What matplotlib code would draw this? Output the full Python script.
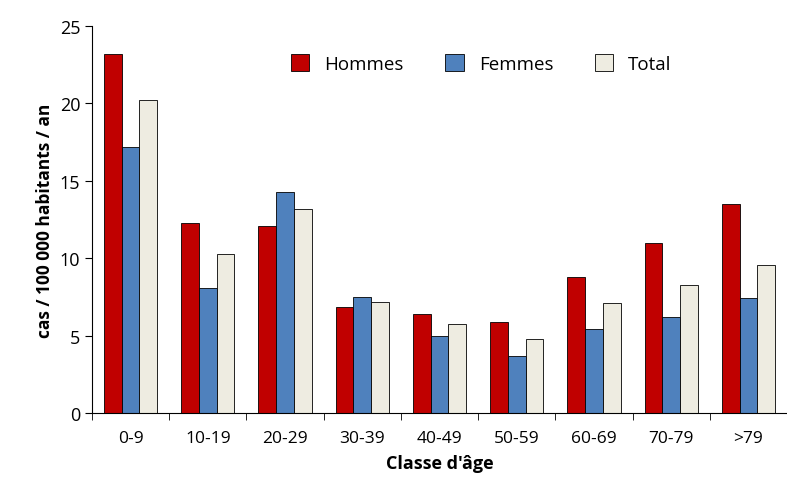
import matplotlib
matplotlib.use("Agg")
import matplotlib.pyplot as plt
import numpy as np

categories = ["0-9","10-19","20-29","30-39","40-49","50-59","60-69","70-79",">79"]
hommes = [23.2, 12.3, 12.1, 6.85, 6.4, 5.9, 8.8, 11.0, 13.5]
femmes = [17.2, 8.1, 14.3, 7.5, 5.0, 3.7, 5.4, 6.2, 7.4]
total = [20.2, 10.3, 13.2, 7.2, 5.75, 4.8, 7.1, 8.3, 9.55]

plt.rcParams['font.family'] = ['Open Sans', 'DejaVu Sans']
fig = plt.figure(figsize=(7.87, 4.89), dpi=100)
ax = fig.add_axes([92/787, 75/489, 695/787, 387/489])
x = np.arange(len(categories))
w = 0.23
ax.bar(x - w, hommes, w, color="#C00000", edgecolor="black", linewidth=0.6, label="Hommes")
ax.bar(x, femmes, w, color="#4F81BD", edgecolor="black", linewidth=0.6, label="Femmes")
ax.bar(x + w, total, w, color="#EEECE1", edgecolor="black", linewidth=0.6, label="Total")
ax.set_xlim(-0.5, len(categories) - 0.5)
ax.set_ylim(0, 25)
ax.set_yticks([0, 5, 10, 15, 20, 25])
ax.set_xticks(x)
ax.set_xticklabels(categories)
ax.set_xticks(np.arange(-0.5, len(categories)), minor=True)
ax.tick_params(axis='x', which='major', length=0, labelsize=12.5, pad=12)
ax.tick_params(axis='x', which='minor', length=5, direction='out')
ax.tick_params(axis='y', labelsize=13, direction='out', length=5)
for s in ['top', 'right']:
    ax.spines[s].set_visible(False)
ax.set_ylabel("cas / 100 000 habitants / an", fontsize=12.5, fontweight='bold')
ax.set_xlabel("Classe d'âge", fontsize=13, fontweight='bold', labelpad=6)
ax.legend(loc='upper center', bbox_to_anchor=(0.56, 0.97), ncol=3, frameon=False,
          fontsize=13.5, handlelength=1.0, handleheight=1.0, columnspacing=2.2)
fig.savefig("out.png", dpi=100)
